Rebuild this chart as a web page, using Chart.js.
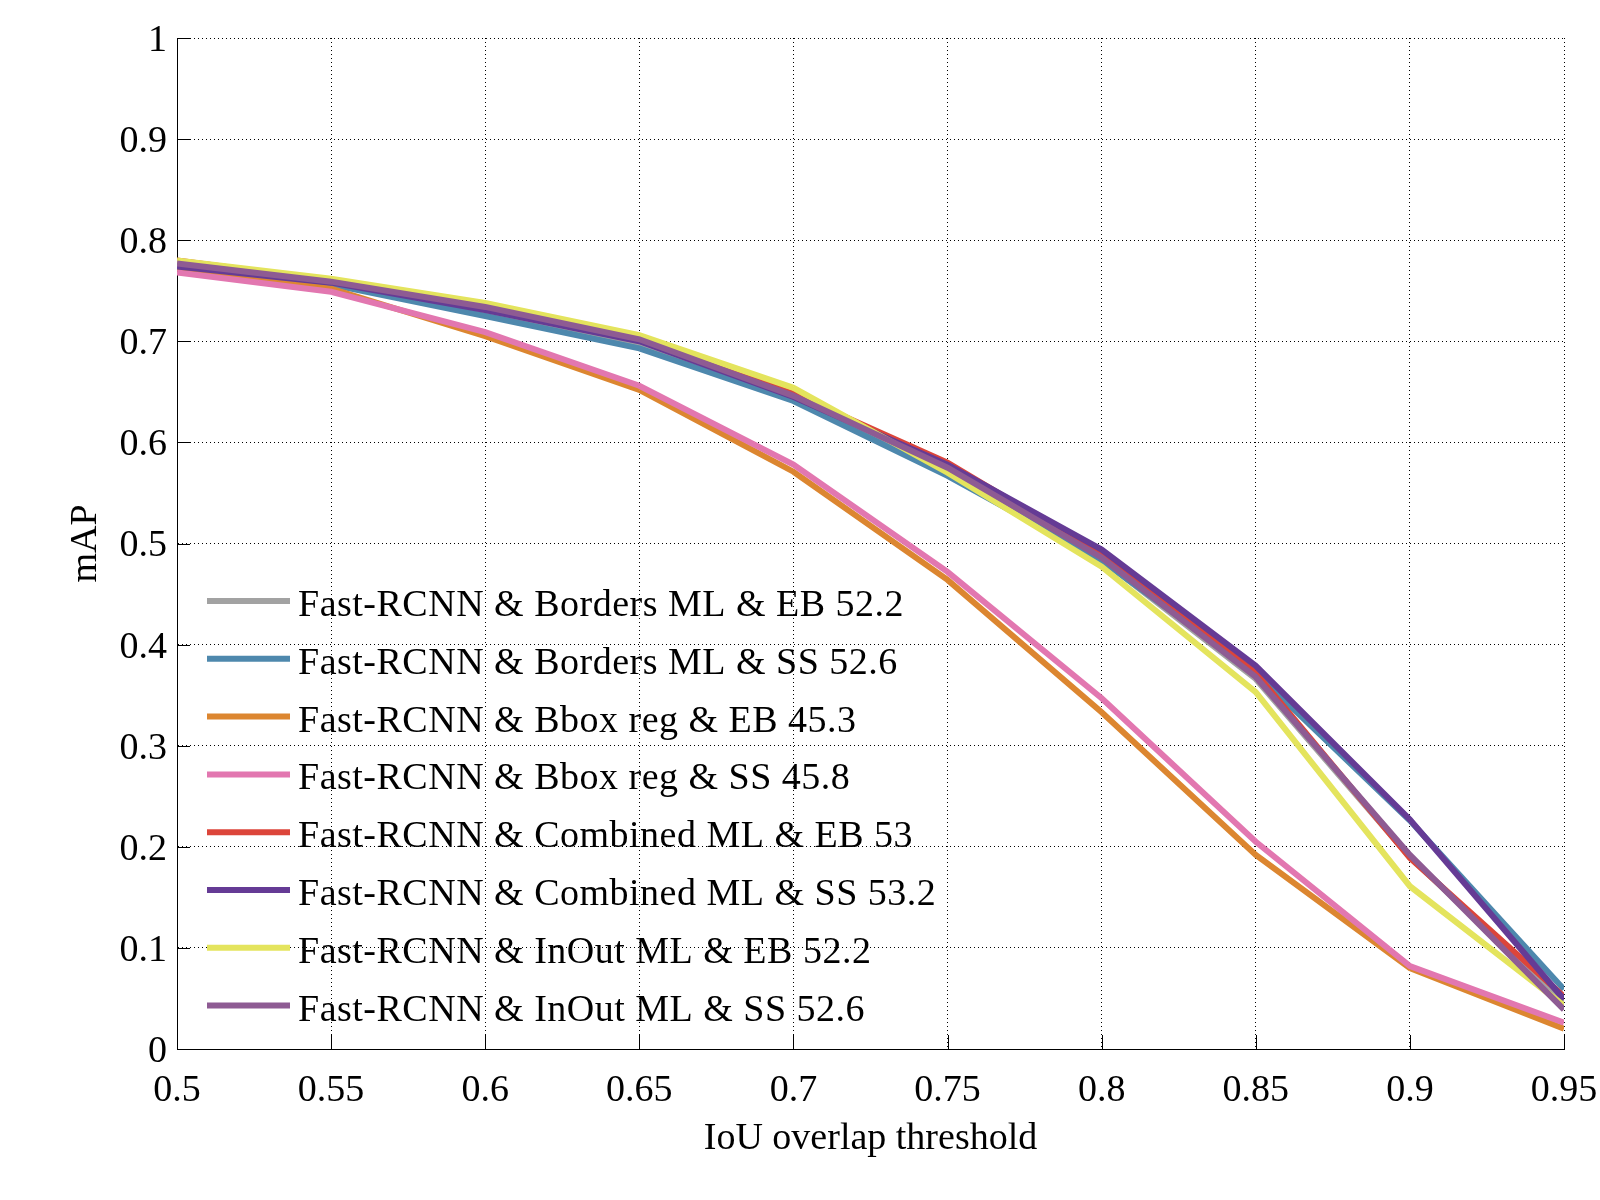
<!DOCTYPE html>
<html>
<head>
<meta charset="utf-8">
<script src="https://cdn.jsdelivr.net/npm/chart.js@4"></script>
<style>
  body { margin: 0; background: #fff; }
  #wrap { width: 1600px; height: 1200px; }
</style>
</head>
<body>
<div id="wrap"><canvas id="mapChart" width="1600" height="1200"></canvas></div>
<script>
// IoU thresholds on the x axis
const iouVals = [0.5, 0.55, 0.6, 0.65, 0.7, 0.75, 0.8, 0.85, 0.9, 0.95];
const xTickLabels = ["0.5", "0.55", "0.6", "0.65", "0.7", "0.75", "0.8", "0.85", "0.9", "0.95"];
const yTickVals = [0, 0.1, 0.2, 0.3, 0.4, 0.5, 0.6, 0.7, 0.8, 0.9, 1];
const yTickLabels = ["0", "0.1", "0.2", "0.3", "0.4", "0.5", "0.6", "0.7", "0.8", "0.9", "1"];

const seriesNames = [
    "Fast-RCNN & Borders ML & EB 52.2",
    "Fast-RCNN & Borders ML & SS 52.6",
    "Fast-RCNN & Bbox reg & EB 45.3",
    "Fast-RCNN & Bbox reg & SS 45.8",
    "Fast-RCNN & Combined ML & EB 53",
    "Fast-RCNN & Combined ML & SS 53.2",
    "Fast-RCNN & InOut ML & EB 52.2",
    "Fast-RCNN & InOut ML & SS 52.6"
];
const seriesColors = ["#a2a2a2", "#4e88ad", "#dc8630", "#e277b0", "#dc453a", "#653b95", "#e4e45d", "#8e5b93"];

// mAP
const bordersEB  = [0.777, 0.758, 0.729, 0.697, 0.643, 0.573, 0.484, 0.366, 0.190, 0.046];
const bordersSS  = [0.774, 0.756, 0.725, 0.693, 0.641, 0.567, 0.483, 0.372, 0.226, 0.059];
const bboxEB     = [0.772, 0.752, 0.705, 0.652, 0.571, 0.464, 0.333, 0.192, 0.080, 0.020];
const bboxSS     = [0.768, 0.749, 0.709, 0.656, 0.578, 0.472, 0.347, 0.205, 0.082, 0.026];
const combinedEB = [0.780, 0.760, 0.735, 0.703, 0.648, 0.580, 0.489, 0.372, 0.189, 0.052];
const combinedSS = [0.774, 0.758, 0.731, 0.700, 0.645, 0.578, 0.494, 0.379, 0.227, 0.049];
const inoutEB    = [0.780, 0.762, 0.738, 0.706, 0.654, 0.570, 0.477, 0.353, 0.161, 0.043];
const inoutSS    = [0.777, 0.759, 0.734, 0.702, 0.646, 0.575, 0.486, 0.368, 0.192, 0.039];

const allSeries = [bordersEB, bordersSS, bboxEB, bboxSS, combinedEB, combinedSS, inoutEB, inoutSS];

const fontFamily = "'Liberation Serif', 'Times New Roman', serif";
Chart.defaults.font.family = fontFamily;
Chart.defaults.font.size = 38;
Chart.defaults.color = "#000";

const datasets = allSeries.map((vals, i) => ({
    label: seriesNames[i],
    data: vals.map((v, k) => ({ x: iouVals[k], y: v })),
    borderColor: seriesColors[i],
    backgroundColor: seriesColors[i],
    borderWidth: 6,
    pointRadius: 0,
    tension: 0,
    fill: false,
    order: allSeries.length - i // last series drawn on top
}));

// small inward tick marks on the bottom and left axes
const inwardTicks = {
    id: 'inwardTicks',
    afterDatasetsDraw(chart) {
        const ctx = chart.ctx;
        const xs = chart.scales.x, ys = chart.scales.y;
        const area = chart.chartArea;
        ctx.save();
        ctx.strokeStyle = "#000";
        ctx.lineWidth = 1;
        ctx.beginPath();
        xs.ticks.forEach(t => {
            const px = Math.round(xs.getPixelForValue(t.value)) + 0.5;
            ctx.moveTo(px, area.bottom);
            ctx.lineTo(px, area.bottom - 14);
        });
        ys.ticks.forEach(t => {
            const py = Math.round(ys.getPixelForValue(t.value)) + 0.5;
            ctx.moveTo(area.left, py);
            ctx.lineTo(area.left + 13, py);
        });
        ctx.stroke();
        ctx.restore();
    }
};

// legend inside the plot, lower left, no box
const innerLegend = {
    id: 'innerLegend',
    afterDraw(chart) {
        const ctx = chart.ctx;
        const area = chart.chartArea;
        const x0 = area.left + 30, x1 = area.left + 113, tx = area.left + 121;
        const y0 = 601, step = 57.8;
        ctx.save();
        ctx.font = "38px " + fontFamily;
        ctx.letterSpacing = "0.5px";
        ctx.textBaseline = "middle";
        ctx.textAlign = "left";
        chart.data.datasets.forEach((ds, i) => {
            const y = y0 + i * step;
            ctx.strokeStyle = ds.borderColor;
            ctx.lineWidth = 6;
            ctx.beginPath();
            ctx.moveTo(x0, y);
            ctx.lineTo(x1, y);
            ctx.stroke();
            ctx.fillStyle = "#000";
            ctx.fillText(ds.label, tx, y + 5);
        });
        ctx.restore();
    }
};

const chart = new Chart(document.getElementById("mapChart").getContext("2d"), {
    type: 'line',
    data: { datasets: datasets },
    options: {
        responsive: false,
        animation: false,
        devicePixelRatio: 1,
        layout: { padding: { left: 0, right: 36, top: 38, bottom: 0 } },
        plugins: {
            legend: { display: false },
            tooltip: { enabled: false }
        },
        scales: {
            x: {
                type: 'linear',
                min: 0.5,
                max: 0.95,
                afterBuildTicks: scale => { scale.ticks = iouVals.map(v => ({ value: v })); },
                afterFit: scale => {
                    scale.height = 151;
                    scale.paddingLeft = 0;
                    scale.paddingRight = 0;
                },
                ticks: {
                    padding: 19,
                    maxRotation: 0,
                    autoSkip: false,
                    callback: (value, index) => xTickLabels[index]
                },
                grid: { color: "#000", lineWidth: 1, drawTicks: false },
                border: { display: true, color: "#000", width: 1, dash: [1, 3] },
                title: {
                    display: true,
                    text: "IoU overlap threshold",
                    color: "#000",
                    padding: { top: 0, bottom: 38 }
                }
            },
            y: {
                type: 'linear',
                min: 0,
                max: 1,
                afterBuildTicks: scale => { scale.ticks = yTickVals.map(v => ({ value: v })); },
                afterFit: scale => { scale.width = 177; },
                ticks: {
                    padding: 10,
                    labelOffset: 3,
                    autoSkip: false,
                    callback: (value, index) => yTickLabels[index]
                },
                grid: { color: "#000", lineWidth: 1, drawTicks: false },
                border: { display: true, color: "#000", width: 1, dash: [1, 3] },
                title: {
                    display: true,
                    text: "mAP",
                    color: "#000",
                    padding: { top: 63, bottom: 0 }
                }
            }
        }
    },
    plugins: [inwardTicks, innerLegend]
});
</script>
</body>
</html>
